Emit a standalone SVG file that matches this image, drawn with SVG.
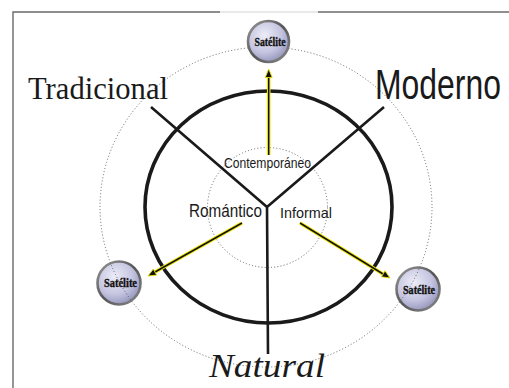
<svg xmlns="http://www.w3.org/2000/svg" width="509" height="388" viewBox="0 0 509 388">
<style>
.dot{fill:none;stroke:#555;stroke-width:0.9;stroke-dasharray:1 2.2}
.arm{stroke:#1a1a1a;stroke-width:2.6;fill:none}
.ay{stroke:#f0e800;stroke-width:3.6;fill:none}
.ab{stroke:#111;stroke-width:1.5;fill:none}
.head{fill:#111;stroke:#e8e000;stroke-width:0.9;stroke-linejoin:round}
.sat{fill:url(#satFill);stroke:url(#satRing);stroke-width:2.6}
.st{font-family:"Liberation Serif",serif;font-weight:bold;font-size:11.5px;fill:#111;stroke:#111;stroke-width:0.35}
.lbl{font-family:"Liberation Sans",Arial,sans-serif;fill:#1a1a1a}
</style>
<defs>
<radialGradient id="satFill" cx="0.4" cy="0.35" r="0.7">
<stop offset="0" stop-color="#ececf8"/>
<stop offset="0.6" stop-color="#c4c4e0"/>
<stop offset="1" stop-color="#9090b8"/>
</radialGradient>
<linearGradient id="satRing" x1="0" y1="0" x2="1" y2="1">
<stop offset="0" stop-color="#9a9a9a"/>
<stop offset="0.5" stop-color="#555"/>
<stop offset="1" stop-color="#8a8a8a"/>
</linearGradient>
<clipPath id="satClip">
<circle cx="119" cy="283" r="22"/>
<circle cx="418" cy="289" r="22"/>
</clipPath>
</defs>
<rect width="509" height="388" fill="#fff"/>
<g id="frame">
<path d="M13,388 V12 H220" fill="none" stroke="#6a6a6a" stroke-width="1.4"/>
<path d="M318,12 H509" fill="none" stroke="#6a6a6a" stroke-width="1.4"/>
<path d="M220,12 H318" fill="none" stroke="#e2e2e2" stroke-width="1.6"/>
</g>
<g id="rings">
<ellipse class="dot" cx="266" cy="207" rx="166" ry="160"/>
<circle class="dot" cx="267.5" cy="207.5" r="60"/>
<ellipse cx="268.5" cy="207" rx="123.5" ry="116" fill="none" stroke="#1a1a1a" stroke-width="3.6"/>
</g>
<g id="connectors">
<path class="arm" d="M151,107 L267,207 L384,107 M267,207 L268,354"/>
<path class="ay" d="M268.7,155 V76"/>
<path class="ab" d="M268.7,155 V76"/>
<path class="head" d="M268.7,69 L272.2,77.5 L265.2,77.5 Z"/>
<path class="ay" d="M242,223 L155,272"/>
<path class="ab" d="M242,223 L155,272"/>
<path class="head" d="M148,276 L156.7,275.1 L153.3,269 Z"/>
<path class="ay" d="M300,223 L383,274"/>
<path class="ab" d="M300,223 L383,274"/>
<path class="head" d="M390,278 L381.4,276.8 L385,270.8 Z"/>
</g>
<g id="sat-top">
<circle class="sat" cx="268.5" cy="41.5" r="20.5"/>
<text class="st" x="270" y="45.5" text-anchor="middle" textLength="31" lengthAdjust="spacingAndGlyphs">Satélite</text>
</g>
<g id="sat-left">
<circle class="sat" cx="119" cy="283" r="21.5"/>
<text class="st" x="120.5" y="287" text-anchor="middle" textLength="33" lengthAdjust="spacingAndGlyphs">Satélite</text>
</g>
<g id="sat-right">
<circle class="sat" cx="418" cy="289" r="21.5"/>
<text class="st" x="419" y="293.5" text-anchor="middle" textLength="32" lengthAdjust="spacingAndGlyphs">Satélite</text>
</g>
<ellipse class="dot" cx="266" cy="207" rx="166" ry="160" clip-path="url(#satClip)"/>
<g id="labels">
<text id="tradicional" x="28" y="99" font-family="Liberation Serif,serif" font-size="31" fill="#1a1a1a" textLength="140" lengthAdjust="spacingAndGlyphs">Tradicional</text>
<text id="moderno" class="lbl" transform="translate(375,99) scale(0.76,1)" x="0" y="0" font-size="42">Moderno</text>
<text id="contemporaneo" class="lbl" x="224" y="168" font-size="14.5" textLength="87" lengthAdjust="spacingAndGlyphs">Contemporáneo</text>
<text id="romantico" class="lbl" x="189" y="217" font-size="17.5" textLength="73" lengthAdjust="spacingAndGlyphs">Romántico</text>
<text id="informal" class="lbl" x="280" y="218" font-size="15" textLength="52" lengthAdjust="spacingAndGlyphs">Informal</text>
<text id="natural" x="209" y="377" font-family="Liberation Serif,serif" font-style="italic" font-size="33" fill="#1a1a1a" textLength="116" lengthAdjust="spacingAndGlyphs">Natural</text>
</g>
</svg>
